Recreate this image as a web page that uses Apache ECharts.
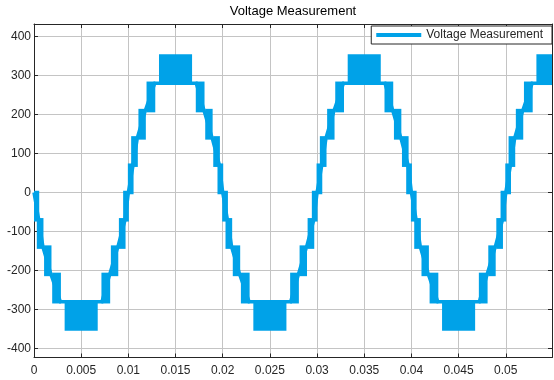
<!DOCTYPE html>
<html>
<head>
<meta charset="utf-8">
<script src="https://cdn.jsdelivr.net/npm/echarts@6/dist/echarts.min.js"></script>
<style>
  html, body { margin: 0; padding: 0; background: #fff; }
  #chart { width: 554px; height: 380px; }
</style>
</head>
<body>
<div id="chart"></div>
<script>
// Multilevel inverter output: staircase with PWM switching bands between adjacent levels
const chartTitle = 'Voltage Measurement';
const seriesName = 'Voltage Measurement';

const xTicks = [0, 0.005, 0.01, 0.015, 0.02, 0.025, 0.03, 0.035, 0.04, 0.045, 0.05];
const yTicks = [-400, -300, -200, -100, 0, 100, 200, 300, 400];

// Switching bands (seconds): start, end, and the two levels switched between (V)
const bandStart = [
  0.0000, 0.00035, 0.00112, 0.00198, 0.0033, 0.0072, 0.0082, 0.00905, 0.0095,
  0.0100, 0.01035, 0.01112, 0.01198, 0.0133, 0.0172, 0.0182, 0.01905, 0.0195,
  0.0200, 0.02035, 0.02112, 0.02198, 0.0233, 0.0272, 0.0282, 0.02905, 0.0295,
  0.0300, 0.03035, 0.03112, 0.03198, 0.0333, 0.0372, 0.0382, 0.03905, 0.0395,
  0.0400, 0.04035, 0.04112, 0.04198, 0.0433, 0.0472, 0.0482, 0.04905, 0.0495,
  0.0500, 0.05035, 0.05112, 0.05198, 0.0533
];
const bandEnd = [
  0.0005, 0.00095, 0.0018, 0.0028, 0.0067, 0.00802, 0.00888, 0.00965, 0.0100,
  0.0105, 0.01095, 0.0118, 0.0128, 0.0167, 0.01802, 0.01888, 0.01965, 0.0200,
  0.0205, 0.02095, 0.0218, 0.0228, 0.0267, 0.02802, 0.02888, 0.02965, 0.0300,
  0.0305, 0.03095, 0.0318, 0.0328, 0.0367, 0.03802, 0.03888, 0.03965, 0.0400,
  0.0405, 0.04095, 0.0418, 0.0428, 0.0467, 0.04802, 0.04888, 0.04965, 0.0500,
  0.0505, 0.05095, 0.0518, 0.0528, 0.0549
];
const bandLevelA = [
  0, -70, -140, -210, -280, -280, -210, -140, -70,
  0, 70, 140, 210, 280, 280, 210, 140, 70,
  0, -70, -140, -210, -280, -280, -210, -140, -70,
  0, 70, 140, 210, 280, 280, 210, 140, 70,
  0, -70, -140, -210, -280, -280, -210, -140, -70,
  0, 70, 140, 210, 280
];
const bandLevelB = [
  -70, -140, -210, -280, -350, -210, -140, -70, 0,
  70, 140, 210, 280, 350, 210, 140, 70, 0,
  -70, -140, -210, -280, -350, -210, -140, -70, 0,
  70, 140, 210, 280, 350, 210, 140, 70, 0,
  -70, -140, -210, -280, -350, -210, -140, -70, 0,
  70, 140, 210, 280, 350
];

const waveColor = '#00a2e8';
const inkColor = '#262626';
const gridColor = '#c4c4c4';
const fontFamily = '"Liberation Sans", Arial, Helvetica, sans-serif';
const waveWidth = 3.5;

// Level shared by two consecutive bands (the flat step between them)
function sharedLevel(i, j) {
  const a = [bandLevelA[i], bandLevelB[i]];
  const b = [bandLevelA[j], bandLevelB[j]];
  return a.find(v => b.indexOf(v) >= 0);
}

// Staircase outline: flats connect the end of one band to the start of the next
const stairPoints = [];
for (let i = 0; i < bandStart.length; i++) {
  const entry = i === 0 ? 0 : sharedLevel(i - 1, i);
  const exit = i === bandStart.length - 1 ? entry : sharedLevel(i, i + 1);
  stairPoints.push([bandStart[i], entry]);
  stairPoints.push([bandEnd[i], exit]);
}

const bandData = bandStart.map((s, i) => [s, bandEnd[i], bandLevelA[i], bandLevelB[i]]);

const chart = echarts.init(document.getElementById('chart'), null, { renderer: 'canvas' });

const xMin = 0, xMax = 0.0549, yMin = -423, yMax = 432;

chart.setOption({
  animation: false,
  backgroundColor: '#fff',
  title: {
    text: chartTitle,
    left: 293,
    textAlign: 'center',
    top: 5,
    padding: 0,
    textStyle: { fontFamily, fontSize: 13, fontWeight: 'normal', color: '#000' }
  },
  legend: {
    data: [{ name: seriesName, icon: 'rect' }],
    right: 2,
    top: 26,
    padding: [3, 9, 3, 5],
    itemWidth: 45,
    itemHeight: 4,
    backgroundColor: '#fff',
    borderColor: inkColor,
    borderWidth: 1,
    borderRadius: 0,
    textStyle: { fontFamily, fontSize: 12, color: inkColor },
    z: 10
  },
  grid: { left: 34, right: 2, top: 24, bottom: 22.5, containLabel: false },
  xAxis: [{
    type: 'value', min: xMin, max: xMax, position: 'bottom',
    axisLine: { show: true, onZero: false, lineStyle: { color: inkColor, width: 1 } },
    axisTick: { show: true, inside: true, length: 4, customValues: xTicks, lineStyle: { color: inkColor } },
    axisLabel: {
      customValues: xTicks, margin: 7, color: inkColor, fontFamily, fontSize: 12,
      formatter: v => String(+(+v).toFixed(3))
    },
    splitLine: { show: true, lineStyle: { color: gridColor, width: 1 } }
  }, {
    type: 'value', min: xMin, max: xMax, position: 'top',
    axisLine: { show: true, onZero: false, lineStyle: { color: inkColor, width: 1 } },
    axisTick: { show: true, inside: true, length: 4, customValues: xTicks, lineStyle: { color: inkColor } },
    axisLabel: { show: false },
    splitLine: { show: false }
  }],
  yAxis: [{
    type: 'value', min: yMin, max: yMax, position: 'left',
    axisLine: { show: true, onZero: false, lineStyle: { color: inkColor, width: 1 } },
    axisTick: { show: true, inside: true, length: 4, customValues: yTicks, lineStyle: { color: inkColor } },
    axisLabel: { customValues: yTicks, margin: 3, color: inkColor, fontFamily, fontSize: 12 },
    splitLine: { show: true, lineStyle: { color: gridColor, width: 1 } }
  }, {
    type: 'value', min: yMin, max: yMax, position: 'right',
    axisLine: { show: true, onZero: false, lineStyle: { color: inkColor, width: 1 } },
    axisTick: { show: true, inside: true, length: 4, customValues: yTicks, lineStyle: { color: inkColor } },
    axisLabel: { show: false },
    splitLine: { show: false }
  }],
  series: [{
    name: seriesName,
    type: 'line',
    xAxisIndex: 0, yAxisIndex: 0,
    data: stairPoints,
    showSymbol: false,
    symbol: 'none',
    lineStyle: { color: waveColor, width: waveWidth, join: 'miter' },
    itemStyle: { color: waveColor },
    z: 3
  }, {
    name: 'switching bands',
    type: 'custom',
    xAxisIndex: 0, yAxisIndex: 0,
    data: bandData,
    encode: { x: [0, 1], y: [2, 3] },
    renderItem: (params, api) => {
      const hi = Math.max(api.value(2), api.value(3));
      const lo = Math.min(api.value(2), api.value(3));
      const p0 = api.coord([api.value(0), hi]);
      const p1 = api.coord([api.value(1), lo]);
      const pad = waveWidth / 2;
      const shape = echarts.graphic.clipRectByRect({
        x: p0[0] - 0.5, y: p0[1] - pad,
        width: p1[0] - p0[0] + 1, height: p1[1] - p0[1] + 2 * pad
      }, {
        x: params.coordSys.x, y: params.coordSys.y,
        width: params.coordSys.width, height: params.coordSys.height
      });
      return shape && { type: 'rect', shape, style: { fill: waveColor } };
    },
    z: 4
  }]
});
</script>
</body>
</html>
